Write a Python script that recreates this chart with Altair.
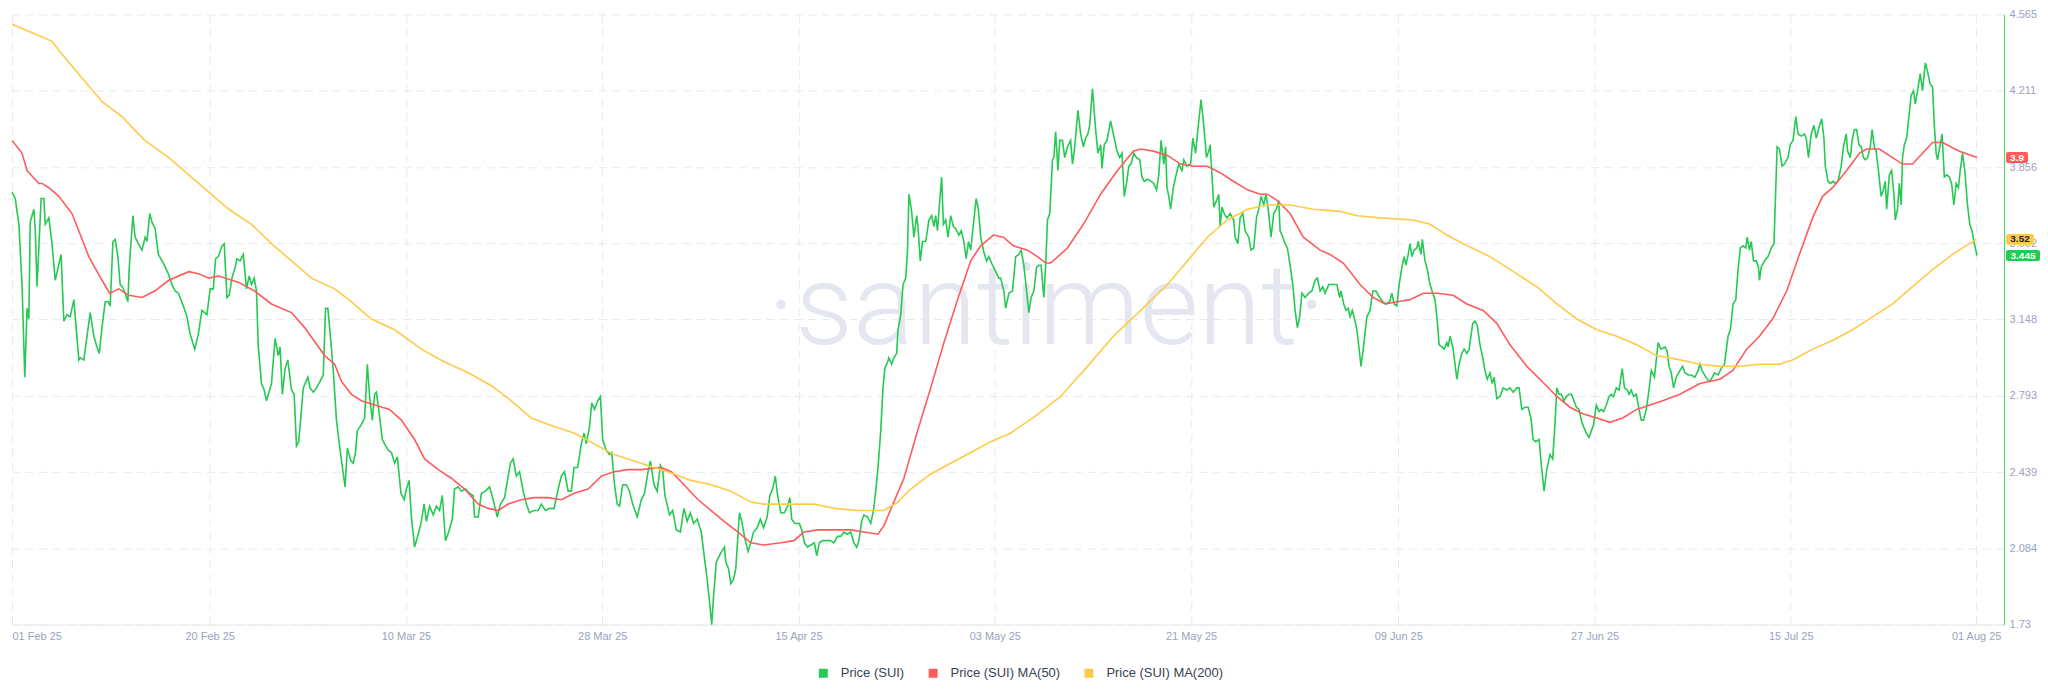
import altair as alt
import pandas as pd

# ---------------- data (hours since 2025-02-01 00:00 UTC, price in USD) ----------------
PRICE = [(21,3.74),(28,3.71),(36,3.59),(43,3.31),(49,2.88),(54,3.20),(58,3.15),(61,3.60),(69,3.66),(72,3.57),(76,3.30),(85,3.71),(91,3.71),(94,3.59),(102,3.62),(109,3.50),(116,3.33),(129,3.45),(135,3.14),(142,3.17),(149,3.16),(157,3.24),(168,2.96),(171,2.97),(179,2.96),(186,3.07),(193,3.18),(201,3.07),(208,3.02),(213,2.99),(219,3.11),(226,3.23),(233,3.23),(237,3.21),(243,3.51),(248,3.52),(254,3.44),(259,3.31),(264,3.30),(270,3.27),(276,3.23),(279,3.39),(287,3.63),(292,3.53),(299,3.50),(307,3.47),(314,3.53),(318,3.51),(324,3.64),(329,3.60),(336,3.57),(343,3.45),(354,3.41),(365,3.36),(373,3.31),(380,3.28),(387,3.27),(398,3.21),(406,3.16),(413,3.08),(423,3.01),(431,3.08),(439,3.19),(450,3.17),(457,3.29),(464,3.29),(469,3.43),(475,3.44),(483,3.49),(488,3.50),(494,3.25),(499,3.26),(505,3.34),(512,3.39),(516,3.43),(523,3.42),(530,3.45),(537,3.29),(543,3.35),(548,3.31),(554,3.34),(559,3.28),(563,3.02),(570,2.85),(576,2.82),(581,2.77),(592,2.85),(600,3.06),(607,2.98),(611,3.02),(616,2.80),(622,2.92),(628,2.96),(636,2.82),(642,2.80),(647,2.56),(652,2.58),(662,2.83),(672,2.88),(677,2.83),(684,2.81),(691,2.83),(699,2.86),(706,2.89),(711,3.20),(716,3.20),(723,3.04),(728,2.91),(735,2.68),(743,2.54),
(754,2.37),(759,2.55),(767,2.49),(772,2.48),(777,2.53),(781,2.63),(790,2.66),(797,2.69),(803,2.94),(808,2.79),(814,2.68),(819,2.80),(823,2.81),(828,2.73),(836,2.59),(841,2.57),(849,2.54),(856,2.53),(863,2.48),(869,2.51),(877,2.34),(884,2.31),(889,2.36),(895,2.40),(900,2.23),(907,2.09),(915,2.15),(921,2.20),(928,2.29),(933,2.21),(940,2.28),(948,2.24),(955,2.28),(962,2.26),(968,2.33),(975,2.12),(982,2.16),(990,2.22),(995,2.36),(1003,2.37),(1010,2.35),(1019,2.36),(1028,2.34),(1036,2.33),(1039,2.23),(1047,2.23),(1054,2.34),(1063,2.35),(1072,2.37),(1080,2.31),(1089,2.23),(1096,2.29),(1105,2.32),(1113,2.42),(1118,2.48),(1124,2.50),(1131,2.42),(1138,2.44),(1146,2.35),(1153,2.29),(1160,2.25),(1170,2.26),(1179,2.26),(1186,2.29),(1195,2.26),(1204,2.27),(1214,2.27),(1223,2.36),(1230,2.42),(1237,2.44),(1245,2.35),(1252,2.35),(1258,2.46),(1266,2.46),(1274,2.57),(1280,2.62),(1285,2.57),(1292,2.65),(1297,2.76),(1303,2.73),(1310,2.77),(1316,2.79),(1321,2.59),(1329,2.54),(1336,2.52),(1341,2.53),(1347,2.38),(1353,2.29),(1358,2.28),(1365,2.38),(1373,2.38),(1380,2.35),(1387,2.29),(1397,2.23),(1406,2.31),(1413,2.34),(1420,2.43),(1426,2.49),(1434,2.38),(1441,2.35),(1448,2.47),(1453,2.45),(1458,2.33),(1468,2.24),(1475,2.26),(1483,2.17),
(1492,2.16),(1500,2.27),(1507,2.21),(1514,2.25),(1521,2.20),(1529,2.22),(1538,2.16),(1545,2.04),(1551,1.94),(1556,1.84),(1561,1.73),(1565,1.86),(1571,2.02),(1578,2.05),(1583,2.07),(1589,2.09),(1592,2.02),(1598,1.99),(1603,1.92),(1609,1.94),(1614,1.99),(1622,2.25),(1627,2.21),(1634,2.13),(1641,2.07),(1647,2.11),(1653,2.16),(1661,2.18),(1668,2.22),(1675,2.18),(1683,2.23),(1689,2.33),(1695,2.36),(1701,2.42),(1706,2.33),(1713,2.25),(1721,2.25),(1728,2.28),(1733,2.32),(1737,2.22),(1744,2.20),(1754,2.20),(1759,2.17),(1765,2.11),(1772,2.09),(1779,2.10),(1787,2.11),(1792,2.05),(1798,2.11),(1805,2.12),(1812,2.12),(1822,2.12),(1830,2.11),(1838,2.14),(1845,2.14),(1852,2.16),(1860,2.15),(1867,2.16),(1874,2.11),(1880,2.09),(1885,2.12),(1891,2.21),(1896,2.24),(1904,2.23),(1911,2.20),(1917,2.26),(1922,2.35),(1927,2.46),(1933,2.63),(1938,2.83),(1942,2.92),(1948,2.95),(1951,2.97),(1957,2.94),(1962,2.97),(1968,2.99),(1971,3.10),(1977,3.17),(1982,3.31),(1988,3.34),(1992,3.47),(1995,3.73),(2001,3.65),(2006,3.53),(2012,3.63),(2015,3.58),(2020,3.42),(2025,3.51),(2032,3.51),(2039,3.61),(2045,3.63),(2050,3.58),(2054,3.63),(2058,3.56),(2061,3.65),(2067,3.81),(2071,3.59),(2076,3.61),(2081,3.53),(2087,3.63),(2093,3.58),(2098,3.57),(2105,3.54),(2110,3.56),(2116,3.51),(2121,3.43),(2126,3.51),(2131,3.47),(2138,3.61),(2143,3.71),(2148,3.66),(2153,3.53),(2160,3.46),(2166,3.42),(2171,3.44),(2179,3.40),(2186,3.37),(2193,3.34),
(2197,3.34),(2204,3.28),(2208,3.20),(2215,3.27),(2223,3.28),(2230,3.44),(2237,3.45),(2242,3.47),(2248,3.40),(2254,3.28),(2259,3.18),(2264,3.25),(2270,3.28),(2276,3.39),(2281,3.40),(2286,3.40),(2292,3.25),(2296,3.40),(2300,3.61),(2305,3.64),(2311,3.89),(2314,3.90),(2318,4.02),(2323,3.84),(2327,3.98),(2333,3.98),(2338,3.90),(2344,3.95),(2351,3.98),(2355,3.87),(2360,3.95),(2367,4.12),(2373,4.01),(2379,3.95),(2384,3.99),(2389,4.01),(2393,4.05),(2399,4.22),(2406,4.03),(2411,3.92),(2417,3.96),(2420,3.85),(2425,3.96),(2431,3.98),(2439,4.07),(2446,4.00),(2453,3.93),(2459,3.90),(2464,3.92),(2469,3.72),(2474,3.78),(2479,3.86),(2484,3.87),(2490,3.92),(2496,3.90),(2503,3.89),(2508,3.81),(2513,3.79),(2521,3.80),(2528,3.79),(2534,3.78),(2540,3.75),(2545,3.82),(2550,3.98),(2556,3.87),(2560,3.95),(2563,3.76),(2567,3.72),(2571,3.66),(2577,3.76),(2582,3.81),(2589,3.87),(2596,3.84),(2600,3.89),(2607,3.86),(2615,3.87),(2620,3.99),(2626,3.92),(2631,4.03),(2638,4.17),(2644,4.05),(2650,3.90),(2655,3.93),(2658,3.96),(2662,3.82),(2666,3.67),(2672,3.70),(2677,3.73),(2680,3.58),(2684,3.67),(2689,3.64),(2695,3.62),(2702,3.64),(2710,3.61),(2713,3.53),(2719,3.50),(2724,3.62),(2730,3.64),(2735,3.56),(2743,3.53),(2748,3.47),(2754,3.48),(2760,3.62),(2765,3.66),(2770,3.72),(2776,3.68),(2781,3.73),(2787,3.64),(2792,3.53),(2798,3.64),(2804,3.66),(2809,3.70),(2812,3.56),(2818,3.53),(2823,3.50),(2828,3.48),(2834,3.40),(2840,3.31),(2845,3.19),(2850,3.11),(2855,3.16),(2860,3.27),(2867,3.25),(2875,3.27),(2882,3.28),(2889,3.33),(2894,3.34),(2900,3.28),(2906,3.30),(2911,3.27),(2919,3.31),
(2922,3.31),(2930,3.31),(2937,3.31),(2943,3.25),(2946,3.28),(2952,3.22),(2957,3.19),(2962,3.20),(2966,3.16),(2971,3.19),(2977,3.14),(2981,3.10),(2987,2.99),(2990,2.93),(2995,3.01),(3003,3.16),(3010,3.19),(3016,3.28),(3023,3.28),(3031,3.25),(3038,3.23),(3045,3.22),(3053,3.23),(3058,3.27),(3063,3.22),(3069,3.21),(3074,3.31),(3080,3.39),(3085,3.44),(3089,3.40),(3094,3.45),(3098,3.50),(3102,3.44),(3107,3.47),(3113,3.48),(3116,3.51),(3122,3.45),(3125,3.52),(3131,3.42),(3136,3.38),(3142,3.31),(3148,3.27),(3153,3.24),(3158,3.14),(3162,3.03),(3168,3.02),(3173,3.01),(3179,3.04),(3182,3.02),(3186,3.07),(3192,3.02),(3197,2.94),(3201,2.87),(3206,2.94),(3212,2.99),(3217,3.01),(3223,2.99),(3228,3.01),(3236,3.13),(3241,3.14),(3246,3.12),(3252,3.03),(3258,2.97),(3263,2.91),(3268,2.87),(3274,2.90),(3279,2.85),(3283,2.88),(3289,2.78),(3296,2.79),(3303,2.83),(3311,2.82),(3318,2.83),(3325,2.81),(3333,2.83),(3338,2.83),(3344,2.73),(3351,2.74),(3358,2.74),(3364,2.69),(3369,2.59),(3375,2.58),(3382,2.59),(3388,2.45),(3393,2.35),(3399,2.45),(3406,2.52),(3412,2.50),(3417,2.66),(3421,2.83),(3426,2.80),(3431,2.80),(3437,2.77),(3442,2.79),(3448,2.80),(3453,2.80),(3459,2.77),(3464,2.74),(3470,2.73),(3475,2.68),(3480,2.65),(3486,2.62),(3492,2.60),(3497,2.63),(3502,2.66),(3508,2.75),(3514,2.72),(3519,2.73),(3524,2.72),(3530,2.75),(3536,2.79),(3541,2.80),(3546,2.79),(3552,2.83),(3558,2.82),(3565,2.92),(3570,2.83),(3576,2.82),(3580,2.80),(3585,2.82),(3590,2.79),(3596,2.80),(3602,2.73),(3607,2.68),(3612,2.68),(3618,2.73),(3624,2.82),(3629,2.91),(3636,2.88),(3644,3.04),(3650,3.01),
(3659,3.02),(3664,3.00),(3668,2.93),(3673,2.90),(3678,2.83),(3684,2.88),(3692,2.91),(3698,2.93),(3703,2.90),(3710,2.89),(3717,2.89),(3725,2.88),(3732,2.91),(3736,2.94),(3741,2.91),(3749,2.88),(3756,2.86),(3761,2.87),(3768,2.90),(3776,2.89),(3783,2.92),(3790,2.94),(3798,3.07),(3803,3.10),(3809,3.22),(3815,3.24),(3820,3.38),(3825,3.48),(3831,3.49),(3837,3.48),(3840,3.53),(3845,3.47),(3849,3.51),(3854,3.42),(3860,3.42),(3865,3.39),(3867,3.33),(3871,3.39),(3878,3.42),(3886,3.44),(3893,3.48),(3899,3.50),(3903,3.76),(3906,3.95),(3911,3.94),(3917,3.86),(3922,3.87),(3930,3.90),(3935,3.96),(3941,3.98),(3947,4.09),(3952,4.01),(3959,4.00),(3966,4.01),(3970,3.99),(3975,3.90),(3981,4.01),(3987,4.05),(3992,3.99),(3998,4.04),(4004,4.08),(4009,3.99),(4012,3.86),(4018,3.79),(4023,3.78),(4029,3.79),(4034,3.78),(4040,3.79),(4047,3.86),(4052,3.95),(4058,4.01),(4061,3.93),(4067,3.90),(4071,3.98),(4076,4.03),(4081,4.03),(4086,3.96),(4091,3.95),(4096,3.90),(4100,3.89),(4105,3.90),(4111,3.95),(4115,4.03),(4120,3.95),(4124,3.93),(4130,3.82),(4135,3.72),(4140,3.75),(4144,3.79),(4147,3.66),(4153,3.82),(4158,3.84),(4163,3.73),(4166,3.61),(4171,3.66),(4175,3.78),(4179,3.68),(4182,3.90),(4186,3.96),(4191,3.99),(4196,4.09),(4201,4.19),(4206,4.21),(4210,4.15),(4215,4.21),(4221,4.29),(4226,4.21),(4232,4.34),(4237,4.30),(4243,4.24),(4248,4.23),(4252,4.05),(4256,3.92),(4259,3.89),(4265,3.96),(4269,4.01),(4274,3.81),(4279,3.82),(4285,3.81),(4290,3.78),(4295,3.68),(4300,3.78),(4305,3.76),(4309,3.84),(4314,3.92),(4319,3.84),(4325,3.68),(4330,3.59),(4335,3.56),(4340,3.50),(4346,3.445)]

MA50 = [(21,3.98),(43,3.92),(54,3.84),(80,3.78),(87,3.78),(102,3.76),(124,3.72),(153,3.64),(190,3.44),(219,3.33),(236,3.27),(256,3.29),(278,3.26),(307,3.25),(335,3.28),(366,3.33),(410,3.37),(432,3.36),(454,3.34),(476,3.35),(520,3.32),(555,3.28),(592,3.22),(636,3.18),(665,3.11),(709,2.98),(731,2.94),(746,2.86),(768,2.80),(790,2.77),(819,2.75),(852,2.73),(878,2.68),(907,2.59),(929,2.50),(959,2.45),(988,2.41),(1017,2.36),(1047,2.29),(1069,2.27),(1091,2.26),(1113,2.29),(1142,2.31),(1170,2.32),(1201,2.32),(1230,2.31),(1258,2.34),(1289,2.36),(1318,2.42),(1346,2.44),(1377,2.45),(1406,2.45),(1450,2.46),(1472,2.44),(1500,2.38),(1531,2.31),(1560,2.26),(1588,2.21),(1619,2.16),(1647,2.11),(1676,2.10),(1713,2.11),(1742,2.12),(1764,2.16),(1795,2.17),(1823,2.17),(1867,2.17),(1896,2.16),(1927,2.15),(1940,2.19),(1962,2.30),(1984,2.41),(2014,2.63),(2043,2.83),(2072,3.04),(2102,3.24),(2131,3.42),(2153,3.49),(2181,3.54),(2203,3.53),(2225,3.49),(2256,3.47),(2278,3.44),(2296,3.41),(2307,3.41),(2344,3.48),(2379,3.59),(2417,3.73),(2454,3.84),(2489,3.93),(2505,3.94),(2533,3.93),(2564,3.91),(2593,3.87),(2621,3.86),(2652,3.86),(2680,3.83),(2709,3.79),(2740,3.75),(2768,3.73),(2784,3.73),(2806,3.70),(2834,3.64),(2863,3.53),(2900,3.47),(2922,3.45),(2951,3.41),(2988,3.31),(3017,3.25),(3043,3.22),(3070,3.23),(3098,3.24),(3127,3.27),(3157,3.27),(3193,3.26),(3223,3.22),(3259,3.19),(3289,3.13),(3318,3.03),(3355,2.93),(3384,2.87),(3421,2.79),(3450,2.74),(3478,2.71),(3509,2.69),(3538,2.67),(3566,2.69),(3597,2.73),(3626,2.75),(3654,2.77),(3692,2.80),(3736,2.85),(3780,2.87),(3808,2.91),(3839,3.01),(3867,3.07),(3896,3.15),(3927,3.28),(3955,3.45),(3984,3.62),(4006,3.72),(4028,3.76),(4059,3.84),(4087,3.92),(4103,3.94),(4131,3.94),(4160,3.90),(4182,3.87),(4204,3.87),(4226,3.92),(4248,3.97),(4270,3.97),(4307,3.93),(4346,3.90)]

MA200 = [(21,4.52),(65,4.48),(109,4.44),(131,4.38),(175,4.27),(219,4.16),(263,4.09),(313,3.98),(366,3.90),(410,3.82),(454,3.74),(498,3.66),(548,3.59),(592,3.50),(636,3.42),(680,3.34),(731,3.29),(762,3.24),(812,3.15),(863,3.10),(922,3.01),(973,2.95),(1025,2.90),(1076,2.84),(1120,2.77),(1164,2.69),(1214,2.65),(1258,2.62),(1302,2.57),(1346,2.52),(1390,2.49),(1434,2.46),(1478,2.43),(1515,2.40),(1560,2.38),(1603,2.35),(1647,2.30),(1676,2.29),(1720,2.29),(1786,2.29),(1830,2.27),(1883,2.26),(1940,2.26),(1971,2.30),(1999,2.36),(2043,2.43),(2087,2.48),(2131,2.53),(2175,2.58),(2219,2.62),(2274,2.70),(2329,2.79),(2388,2.93),(2445,3.07),(2505,3.19),(2564,3.31),(2608,3.42),(2652,3.53),(2696,3.61),(2740,3.66),(2784,3.68),(2834,3.68),(2885,3.66),(2944,3.65),(2982,3.63),(3032,3.62),(3105,3.61),(3142,3.59),(3179,3.54),(3215,3.50),(3274,3.44),(3333,3.36),(3377,3.30),(3421,3.22),(3465,3.15),(3509,3.10),(3553,3.07),(3597,3.03),(3641,2.98),(3692,2.96),(3736,2.94),(3780,2.93),(3823,2.93),(3867,2.94),(3911,2.94),(3940,2.96),(3984,3.01),(4028,3.05),(4072,3.10),(4116,3.16),(4160,3.22),(4204,3.30),(4248,3.38),(4292,3.45),(4344,3.52)]

SERIES = ["Price (SUI)", "Price (SUI) MA(50)", "Price (SUI) MA(200)"]
COLORS = ["#26c953", "#ff5b5b", "#ffcb47"]

X_TICK_DATES = ["2025-02-20", "2025-03-10", "2025-03-28", "2025-04-15", "2025-05-03",
                "2025-05-21", "2025-06-09", "2025-06-27", "2025-07-15", "2025-08-01"]
X_START = (2025, 2, 1, 20, 53)
X_END = (2025, 8, 3, 13, 26)
Y_TICKS = [4.565, 4.211, 3.856, 3.502, 3.148, 2.793, 2.439, 2.084, 1.73]
Y_MIN, Y_MAX = 1.73, 4.565

BADGE_VALUES = [3.9, 3.52, 3.445]
BADGE_LABELS = ["3.9", "3.52", "3.445"]
BADGE_FILLS = ["#ff5b5b", "#ffcb47", "#26c953"]
BADGE_TEXT = ["#ffffff", "#1f2335", "#ffffff"]
BADGE_WIDTHS = [22, 28, 34]

# ---------------- build table ----------------
BASE = pd.Timestamp("2025-02-01 00:00:00")
rows = []
for name, pts in zip(SERIES, [PRICE, MA50, MA200]):
    for h, v in pts:
        t = BASE + pd.Timedelta(hours=h)
        rows.append({"t": t.strftime("%Y-%m-%dT%H:%M:%SZ"), "v": v, "series": name})
df = pd.DataFrame(rows)

W, H = 1995, 611
FONT = "Liberation Sans"
LABEL_COLOR = "#9aa3bd"
GRID_COLOR = "#e6e9f2"


def dt(y, m, d, hh=0, mm=0):
    return alt.DateTime(year=y, month=m, date=d, hours=hh, minutes=mm, utc=True)


tick_vals = [dt(*X_START)] + [dt(int(s[:4]), int(s[5:7]), int(s[8:10])) for s in X_TICK_DATES]

x_enc = alt.X(
    "t:T",
    scale=alt.Scale(type="utc", domain=[dt(*X_START), dt(*X_END)], nice=False),
    axis=alt.Axis(values=tick_vals, format="%d %b %y", title=None, grid=True,
                  gridDash=[8, 6], gridColor=GRID_COLOR, gridWidth=1,
                  domainColor="#e3e6ef", ticks=False, labelColor=LABEL_COLOR,
                  labelFontSize=11, labelFont=FONT, labelPadding=6,
                  labelFlush=True, labelOverlap=False),
)
y_scale = alt.Scale(domain=[Y_MIN, Y_MAX], nice=False, zero=False)
y_axis = alt.Axis(orient="right", values=Y_TICKS, format=".3~f", title=None, grid=True,
                  gridDash=[8, 6], gridColor=GRID_COLOR, gridWidth=1,
                  domainColor="#3fd95e", domainWidth=1, ticks=False,
                  labelColor=LABEL_COLOR, labelFontSize=11, labelFont=FONT,
                  labelPadding=5)

color_scale = alt.Scale(domain=SERIES, range=COLORS)
# square legend symbols: a tiny square with a thick stroke reads as a filled square
legend = alt.Legend(
    title=None, orient="none", legendX=806, legendY=653, direction="horizontal",
    symbolType="square", symbolSize=16, symbolStrokeWidth=5, symbolDash=[],
    labelFontSize=13, labelFont=FONT, labelColor="#3a3f52",
    labelOffset=11, columnPadding=16, padding=0,
)

watermark = alt.Chart(pd.DataFrame({"w": ["·santiment·"]})).mark_text(
    font="Roboto", fontSize=114, fontWeight=300, color="#e4e6f0",
    align="center", baseline="alphabetic",
).encode(text="w:N", x=alt.value(1036), y=alt.value(330))

lines = []
for name in SERIES:
    lines.append(
        alt.Chart(df).transform_filter(alt.datum.series == name)
        .mark_line(strokeWidth=1.6, interpolate="linear")
        .encode(x=x_enc, y=alt.Y("v:Q", scale=y_scale, axis=y_axis),
                color=alt.Color("series:N", scale=color_scale, legend=legend))
    )

half = 5.5 * (Y_MAX - Y_MIN) / H  # half badge height in value units
badges = []
for val, lab, fill, tc, w in zip(BADGE_VALUES, BADGE_LABELS, BADGE_FILLS, BADGE_TEXT, BADGE_WIDTHS):
    bdf = pd.DataFrame({"v": [val], "lo": [val - half], "hi": [val + half], "label": [lab]})
    badges.append(
        alt.Chart(bdf).mark_rect(color=fill, cornerRadius=2).encode(
            x=alt.value(W + 2), x2=alt.value(W + 2 + w),
            y=alt.Y("lo:Q", scale=y_scale, axis=y_axis), y2="hi:Q")
    )
    badges.append(
        alt.Chart(bdf).mark_text(color=tc, fontSize=10, font=FONT, fontWeight="bold",
                                 align="center", baseline="middle").encode(
            x=alt.value(W + 2 + w / 2), y=alt.Y("v:Q", scale=y_scale, axis=y_axis),
            text="label:N")
    )

chart = alt.layer(watermark, *lines, *badges).properties(
    width=W, height=H, padding=0, background="white"
).configure_view(stroke=None)

chart.save("out.html", embed_options={"renderer": "svg", "actions": False})
